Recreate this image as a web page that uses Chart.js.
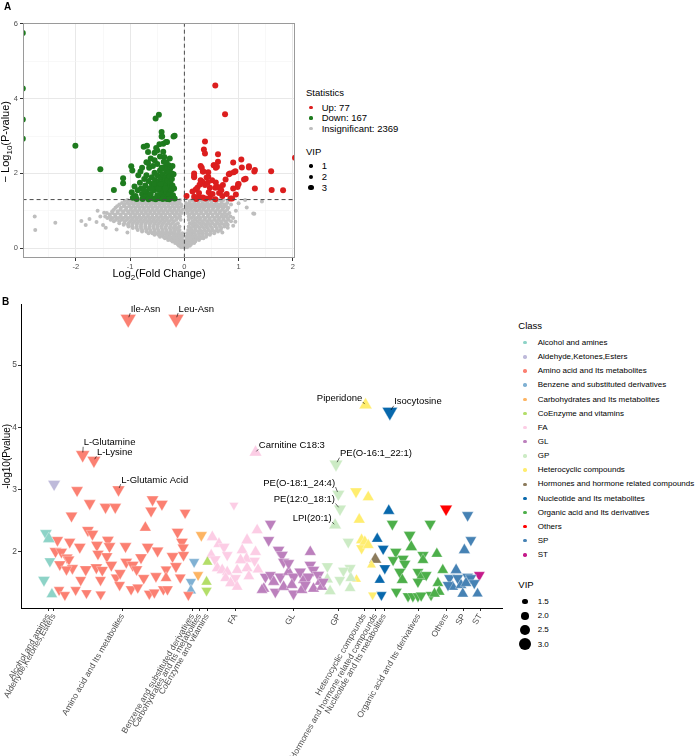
<!DOCTYPE html>
<html>
<head>
<meta charset="utf-8">
<script src="https://cdn.jsdelivr.net/npm/chart.js@4.4.1/dist/chart.umd.min.js"></script>
<style>
  body { margin: 0; background: #fff; width: 699px; height: 756px; position: relative; overflow: hidden;
         font-family: "Liberation Sans", Arial, sans-serif; color: #000; }
  .abs { position: absolute; white-space: nowrap; }
  #boxA { position: absolute; left: 0; top: 0; }
  #boxB { position: absolute; left: 0; top: 295px; }
  .dot { position: absolute; border-radius: 50%; }
</style>
</head>
<body>
<canvas id="boxA" width="300" height="270"></canvas>
<canvas id="boxB" width="512" height="461"></canvas>
<div id="overlay"></div>
<script>
/* ---------- panel A : volcano ---------- */
const volcXTicks = [-2, -1, 0, 1, 2];
const volcXMinor = [-2.5, -1.5, -0.5, 0.5, 1.5];
const volcYTicks = [0, 2, 4, 6];
const volcYMinor = [1, 3, 5];
const statLabels = ['Up: 77', 'Down: 167', 'Insignificant: 2369'];
const statColors = ['#DC1E1E', '#1E7B1E', '#BEBEBE'];
const vipLevelsA = [1, 2, 3];

// log2FC, -log10 p
const upPts = [[0.57,4.35],[0.75,3.58],[2.04,2.42],[0.38,2.85],[0.36,2.64],[0.62,2.51],[0.62,2.31],[1.05,2.37],
  [1.19,2.19],[1.30,2.09],[1.60,2.06],[1.61,1.56],[1.82,1.55],[1.30,1.60],[0.90,2.29],[0.94,2.06],[0.84,2.00],
  [0.99,1.71],[1.10,1.84],[1.13,1.86],[0.30,2.20],[0.34,2.05],[0.18,2.00],[0.18,1.93],[0.55,2.22],[0.58,2.15],
  [0.44,1.91],[0.04,1.40],[0.18,1.38],[0.21,1.57],[0.24,1.62],[0.30,1.82],[0.33,1.78],[0.38,1.69],[0.41,1.89],
  [0.47,1.62],[0.51,1.82],[0.57,1.62],[0.62,1.64],[0.66,1.62],[0.71,1.69],[0.76,1.84],[0.90,1.60],[0.98,1.64],
  [1.00,1.72],[0.26,1.38],[0.34,1.36],[0.39,1.33],[0.57,1.31],[0.85,1.33],[0.88,1.33],[0.47,1.36],[0.54,2.22],
  [0.60,2.18],[0.38,2.53],[0.91,2.03],[0.82,1.98],[1.06,2.16],[1.19,2.16],[1.29,2.05],[0.18,1.90],[0.35,2.05],
  [0.44,2.03],[0.32,2.15],[0.27,1.48],[0.45,1.50],[0.52,1.45],[0.64,1.48],[0.70,1.40],[0.15,1.52],[0.28,1.70],
  [0.43,1.75],[0.58,1.76],[0.68,1.55],[0.78,1.45],[0.22,1.32],[0.95,1.44]];
const downPts = [[-2.98,5.75],[-2.98,4.27],[-2.98,3.44],[-2.98,2.93],[-2.01,2.74],[-1.55,2.11],[-1.30,1.56],[-1.13,1.87],
  [-1.13,1.74],[-0.98,2.19],[-0.96,2.08],[-0.53,3.47],[-0.47,3.57],[-0.42,3.11],[-0.41,2.99],[-0.20,2.99],
  [-0.75,2.71],[-0.69,2.74],[-0.67,2.57],[-0.55,2.55],[-0.46,2.78],[-0.39,2.79],[-0.34,2.84],[-0.50,2.61],
  [-0.78,2.15],[-0.81,2.05],[-0.67,2.28],[-0.52,2.68],[-0.32,2.84],[-0.18,3.01],[-0.42,2.99],[-0.39,2.58],
  [-0.37,2.44],[-0.38,2.31],[-0.35,2.18],[-0.29,2.22],[-0.26,2.13],[-0.23,2.00],[-0.32,2.04],
  [-0.85,1.95],[-0.82,1.75],[-0.80,1.60],[-0.78,1.45],[-0.76,1.35],[-0.74,1.85],[-0.72,1.68],[-0.70,1.50],
  [-0.70,1.95],[-0.68,1.38],[-0.66,1.80],[-0.64,1.60],[-0.62,1.45],[-0.60,1.90],[-0.60,1.72],[-0.58,1.33],
  [-0.56,1.55],[-0.55,2.02],[-0.54,1.82],[-0.52,1.66],[-0.50,1.42],[-0.50,1.95],[-0.48,1.75],[-0.47,1.56],
  [-0.46,1.34],[-0.45,2.08],[-0.44,1.88],[-0.43,1.65],[-0.42,1.47],[-0.40,1.98],[-0.39,1.77],[-0.38,1.58],
  [-0.37,1.38],[-0.36,2.12],[-0.35,1.90],[-0.34,1.68],[-0.33,1.50],[-0.32,1.32],[-0.31,1.82],[-0.30,2.02],
  [-0.29,1.62],[-0.28,1.44],[-0.27,1.92],[-0.26,1.75],[-0.25,1.35],[-0.24,1.55],[-0.23,1.85],[-0.22,1.68],
  [-0.21,1.42],[-0.20,1.98],[-0.19,1.60],[-0.18,1.33],[-0.90,1.40],[-0.92,1.65],[-0.88,1.32],[-0.95,1.35],
  [-0.97,1.50],[-0.86,1.55],[-0.65,2.15],[-0.58,2.20],[-0.50,2.25],[-0.42,2.15],[-0.33,2.30],[-0.27,2.40],
  [-0.22,2.20],[-0.70,2.30],[-0.62,2.40],[-0.55,2.35],[-0.45,2.45],[-0.77,1.32],[-0.40,1.32],[-0.28,1.31],
  [-0.53,1.31],[-0.66,1.31],[-0.60,1.60],[-0.48,1.60],[-0.35,1.60],[-0.74,1.55],[-0.44,1.72],[-0.56,1.72]];
// insignificant cloud, read band by band: [-log10 p, [log2FC ...]]
const grayBands = [
  [0.03,[-0.06,-0.02,0.02,0.05]],
  [0.07,[-0.1,-0.05,0,0.05,0.1]],
  [0.10,[-0.12,-0.08,-0.03,0.03,0.08,0.12]],
  [0.14,[-0.17,-0.12,-0.07,-0.02,0.04,0.09,0.14,0.18]],
  [0.18,[-0.22,-0.16,-0.11,-0.06,0.05,0.1,0.15,0.2]],
  [0.22,[-0.3,-0.25,-0.19,-0.14,-0.09,-0.04,0.04,0.09,0.15,0.21,0.27]],
  [0.27,[-0.36,-0.3,-0.24,-0.18,-0.12,-0.06,0.06,0.12,0.18,0.24,0.3,0.35]],
  [0.31,[-0.45,-0.39,-0.33,-0.27,-0.21,-0.15,-0.09,-0.03,0.04,0.1,0.16,0.22,0.28,0.34,0.4]],
  [0.36,[-0.55,-0.48,-0.41,-0.34,-0.27,-0.2,-0.13,-0.07,0.07,0.13,0.2,0.27,0.34,0.41,0.47]],
  [0.40,[-0.66,-0.59,-0.52,-0.45,-0.38,-0.31,-0.24,-0.17,-0.1,-0.04,0.05,0.12,0.19,0.27,0.34,0.41,0.48,0.55]],
  [0.45,[-0.78,-0.7,-0.62,-0.55,-0.47,-0.4,-0.33,-0.26,-0.19,-0.11,0.1,0.17,0.25,0.32,0.4,0.48,0.55,0.62]],
  [0.49,[-0.86,-0.78,-0.7,-0.63,-0.55,-0.48,-0.4,-0.33,-0.25,-0.17,-0.09,0.07,0.14,0.21,0.29,0.37,0.45,0.52,0.6,0.67]],
  [0.54,[-0.95,-0.88,-0.8,-0.72,-0.65,-0.57,-0.5,-0.42,-0.35,-0.27,-0.2,-0.13,0.12,0.2,0.28,0.36,0.43,0.51,0.6,0.68]],
  [0.58,[-1.03,-0.96,-0.88,-0.8,-0.72,-0.64,-0.57,-0.49,-0.42,-0.34,-0.26,-0.18,-0.09,0.08,0.17,0.25,0.33,0.41,0.49,0.57,0.66,0.74]],
  [0.63,[-1.12,-1.04,-0.96,-0.88,-0.8,-0.72,-0.64,-0.56,-0.49,-0.41,-0.33,-0.25,-0.16,0.14,0.22,0.31,0.39,0.47,0.56,0.64,0.73,0.8]],
  [0.67,[-1.2,-1.11,-1.03,-0.95,-0.87,-0.79,-0.71,-0.63,-0.55,-0.47,-0.39,-0.3,-0.22,-0.12,0.1,0.19,0.28,0.36,0.44,0.52,0.61,0.69,0.78]],
  [0.72,[-1.3,-1.2,-1.1,-1.0,-0.92,-0.84,-0.76,-0.68,-0.6,-0.52,-0.44,-0.36,-0.28,-0.19,0.15,0.24,0.33,0.42,0.5,0.59,0.67,0.76,0.86]],
  [0.76,[-1.36,-1.26,-1.16,-1.06,-0.97,-0.89,-0.81,-0.73,-0.65,-0.57,-0.49,-0.41,-0.33,-0.24,-0.15,-0.07,0.08,0.19,0.28,0.37,0.46,0.55,0.63,0.72,0.81]],
  [0.81,[-1.42,-1.32,-1.22,-1.12,-1.03,-0.95,-0.87,-0.79,-0.71,-0.63,-0.55,-0.47,-0.39,-0.31,-0.22,-0.13,0.13,0.22,0.3,0.39,0.47,0.56,0.64,0.72,0.8,0.9]],
  [0.85,[-1.46,-1.37,-1.27,-1.17,-1.08,-0.99,-0.91,-0.83,-0.75,-0.67,-0.59,-0.51,-0.43,-0.35,-0.26,-0.17,-0.08,0.08,0.17,0.26,0.35,0.43,0.52,0.6,0.68,0.76,0.85]],
  [0.90,[-1.38,-1.28,-1.18,-1.08,-0.99,-0.91,-0.83,-0.75,-0.67,-0.59,-0.51,-0.43,-0.35,-0.27,-0.18,-0.1,0.1,0.18,0.27,0.35,0.44,0.52,0.61,0.7,0.79]],
  [0.94,[-1.43,-1.33,-1.23,-1.13,-1.03,-0.95,-0.87,-0.79,-0.71,-0.63,-0.55,-0.47,-0.39,-0.31,-0.22,-0.14,-0.05,0.05,0.14,0.22,0.31,0.4,0.48,0.57,0.65,0.74,0.83]],
  [0.99,[-1.33,-1.23,-1.13,-1.04,-0.95,-0.87,-0.79,-0.71,-0.63,-0.55,-0.47,-0.39,-0.31,-0.23,-0.15,-0.07,0.07,0.15,0.23,0.31,0.4,0.48,0.57,0.66,0.75]],
  [1.03,[-1.3,-1.18,-1.08,-0.99,-0.91,-0.83,-0.75,-0.67,-0.59,-0.51,-0.43,-0.35,-0.27,-0.19,-0.11,-0.03,0.03,0.11,0.19,0.27,0.35,0.44,0.52,0.61,0.7,0.79]],
  [1.08,[-1.27,-1.17,-1.07,-0.98,-0.9,-0.82,-0.74,-0.66,-0.58,-0.5,-0.42,-0.34,-0.26,-0.18,-0.1,0.06,0.13,0.21,0.29,0.37,0.45,0.54,0.63,0.72,0.81]],
  [1.12,[-1.24,-1.12,-1.02,-0.94,-0.86,-0.78,-0.7,-0.62,-0.54,-0.46,-0.38,-0.3,-0.22,-0.14,-0.06,0.04,0.1,0.17,0.25,0.33,0.41,0.5,0.59,0.68,0.77]],
  [1.17,[-1.2,-1.1,-1.01,-0.93,-0.85,-0.77,-0.69,-0.61,-0.53,-0.45,-0.37,-0.29,-0.21,-0.13,-0.06,0.06,0.14,0.22,0.3,0.38,0.46,0.55,0.64,0.74,0.86]],
  [1.21,[-1.15,-1.05,-0.97,-0.89,-0.81,-0.73,-0.65,-0.57,-0.49,-0.41,-0.33,-0.25,-0.17,-0.09,0.03,0.1,0.18,0.26,0.34,0.42,0.5,0.59,0.69,0.79]],
  [1.26,[-1.1,-1.0,-0.92,-0.84,-0.76,-0.68,-0.6,-0.52,-0.44,-0.36,-0.28,-0.2,-0.12,0.1,0.18,0.26,0.34,0.42,0.5,0.59,0.68,0.8]],
  [1.29,[-1.05,-0.96,-0.88,-0.8,-0.72,-0.64,-0.56,-0.48,-0.4,-0.32,-0.24,-0.16,-0.08,0.14,0.22,0.3,0.38,0.46,0.54,0.63,0.72]]
];
const grayOut = [[-2.76,0.85],[-2.75,0.49],[-2.38,0.68],[-1.90,0.73],[-1.82,0.62],[-1.75,0.78],[-1.62,0.70],
  [-1.55,0.85],[-1.50,0.62],[-1.48,0.95],[-1.45,0.55],[-1.60,1.00],[0.94,0.71],[1.12,1.29],[1.15,1.09],
  [1.29,0.92],[1.27,0.93],[1.43,1.25],[0.95,1.00],[1.00,1.20],[0.90,0.60],[-1.25,0.50],[-1.05,0.42],
  [0.70,0.42],[0.80,0.55]];
const pThreshold = 1.301;
const fcThreshold = 0;

/* ---------- panel B : class plot ---------- */
const classNames = ['Alcohol and amines','Aldehyde,Ketones,Esters','Amino acid and Its metabolites',
  'Benzene and substituted derivatives','Carbohydrates and Its metabolites','CoEnzyme and vitamins','FA','GL','GP',
  'Heterocyclic compounds','Hormones and hormone related compounds','Nucleotide and Its metabolites',
  'Organic acid and Its derivatives','Others','SP','ST'];
const classColors = ['#8DD3C7','#BEBADA','#FB8072','#80B1D3','#FDB462','#B3DE69','#FCCDE5','#BC80BD','#CCEBC5',
  '#FFED6F','#8C7B5C','#0868AC','#4DAF4A','#FF0000','#4682B4','#C51B8A'];
const classTicks = [3.9,7.1,45.2,84.0,87.9,92.2,108.0,140.0,165.4,179.4,185.7,190.5,209.7,225.1,234.7,243.9];
const yTicksB = [2, 3, 4, 5];
const vipLevelsB = [1.5, 2.0, 2.5, 3.0];

// [index, -log10 p, up(1)/down(0), VIP, label]
const alcohol = [[2.7,2.30,0,2.2],[4.3,2.21,1,2.2],[4.9,1.85,0,2.0],[1.6,1.55,0,2.2],[6.0,1.32,1,2.0]];
const aldehyde = [[7.25,3.09,0,2.3]];
const amino = [[20.0,2.99,0,2.2],[43.0,3.00,0,2.3,'L-Glutamic Acid'],[27.0,2.78,0,2.2],[35.8,2.72,0,2.2],
  [41.2,2.72,0,2.2],[61.9,2.84,0,2.2],[67.1,2.77,0,2.2],[61.1,2.66,0,2.2],[80.0,2.63,0,2.0],[16.9,2.58,0,2.2],
  [57.9,2.39,1,2.1],[26.0,2.35,0,2.2],[28.5,2.29,0,2.2],[9.1,2.19,0,2.1],[15.9,2.16,0,2.1],[21.5,2.08,0,2.2],
  [31.0,2.11,0,2.2],[37.1,2.19,0,2.2],[38.0,2.09,0,2.2],[46.9,2.09,0,2.2],[59.2,2.08,0,2.2],[64.7,2.02,0,2.2],
  [75.8,2.32,0,2.2],[78.2,2.16,0,2.2],[78.9,2.07,0,2.1],[8.0,2.01,0,2.2],[11.3,2.00,0,2.1],[14.4,1.91,0,2.1],
  [15.5,1.88,0,2.0],[31.6,1.97,0,2.1],[36.5,1.93,0,2.1],[55.5,1.91,0,2.2],[73.0,1.93,0,2.2],[79.1,1.95,0,2.1],
  [10.4,1.80,0,2.1],[17.4,1.74,0,2.1],[24.8,1.72,0,2.2],[30.7,1.75,0,2.2],[39.0,1.79,0,2.2],[47.3,1.84,0,2.2],
  [50.9,1.79,0,2.2],[53.1,1.72,0,2.1],[14.1,1.72,0,2.0],[34.0,1.71,0,2.1],[74.9,1.77,0,2.2],[69.4,1.72,0,2.0],
  [69.4,1.58,1,2.0],[22.0,1.55,0,2.0],[33.0,1.55,0,2.0],[41.7,1.59,0,2.0],[43.9,1.66,0,2.1],[57.0,1.58,0,2.1],
  [63.8,1.61,0,2.1],[77.3,1.59,0,2.0],[10.0,1.39,0,1.9],[13.2,1.31,0,1.9],[19.2,1.39,0,1.9],[25.2,1.34,0,1.9],
  [33.1,1.32,0,1.9],[43.6,1.47,0,2.0],[50.0,1.40,0,2.0],[53.7,1.43,0,2.0],[60.1,1.33,0,2.0],[62.9,1.35,0,2.0],
  [67.9,1.40,0,2.0],[70.2,1.40,0,2.0],[81.8,1.31,0,1.9],[48.4,5.74,0,3.0,'Ile-Asn'],[75.0,5.74,0,3.0,'Leu-Asn'],
  [23.1,3.56,0,2.6,'L-Glutamine'],[29.35,3.47,0,2.5,'L-Lysine']];
const benzene = [[85.0,1.84,0,1.9],[83.2,1.52,0,1.9],[83.2,1.38,1,1.9]];
const carbo = [[89.0,2.27,0,2.1],[87.2,1.63,0,1.9]];
const coenzyme = [[92.4,1.84,1,1.8],[91.9,1.52,1,1.9],[91.9,1.38,0,1.9]];
const fa = [[107.1,2.75,0,1.6],[120.0,2.35,1,2.1],[119.1,3.60,1,2.3,'Carnitine C18:3'],[95.1,2.24,1,2.1],
  [98.8,2.13,1,2.1],[101.6,2.08,0,2.1],[114.4,2.19,1,2.2],[94.5,1.95,1,2.0],[96.6,1.88,0,2.1],[103.4,1.95,0,2.0],
  [111.7,2.03,1,2.1],[114.1,1.89,1,2.1],[119.1,2.00,1,2.1],[118.6,1.86,0,2.0],[97.9,1.74,1,2.1],[100.6,1.71,1,2.1],
  [103.4,1.68,1,2.0],[110.8,1.87,1,2.1],[108.9,1.71,1,2.0],[114.4,1.74,1,2.1],[102.5,1.58,1,2.0],[105.3,1.50,1,2.1],
  [108.0,1.58,0,2.0],[108.9,1.44,1,2.0],[115.4,1.61,1,2.0],[120.5,1.72,1,2.0]];
const gl = [[127.4,2.45,0,2.1],[126.4,2.19,0,2.1],[131.9,2.03,0,2.2],[133.8,1.95,0,2.2],[149.5,2.00,1,2.1],
  [149.5,1.79,0,2.2],[134.7,1.84,0,2.1],[151.3,1.71,0,2.2],[124.6,1.60,0,2.1],[127.4,1.63,0,2.0],[129.2,1.52,1,2.1],
  [132.9,1.60,0,2.2],[137.5,1.68,1,2.1],[140.2,1.60,0,2.2],[143.9,1.68,0,2.2],[145.8,1.55,1,2.1],[148.5,1.60,0,2.2],
  [154.0,1.63,0,2.2],[154.9,1.52,1,2.0],[123.7,1.41,1,2.1],[130.1,1.36,0,2.1],[134.7,1.44,1,2.1],[139.3,1.47,1,2.1],
  [140.2,1.33,0,2.1],[144.8,1.39,1,2.1],[146.7,1.47,0,2.1],[151.3,1.41,1,2.1],[155.9,1.44,1,2.0],[137.5,1.82,0,2.1],
  [156.8,1.52,0,2.0],[122.7,1.39,1,2.0]];
const gp = [[163.8,3.41,0,2.5,'PE(O-16:1_22:1)'],[165.1,2.93,0,2.3,'PE(O-18:1_24:4)'],[166.0,2.69,0,2.3,'PE(12:0_18:1)'],
  [163.3,2.43,1,2.3,'LPI(20:1)'],[159.0,1.77,0,2.1],[159.0,1.56,1,2.1],[160.5,1.37,1,2.1],[165.9,1.55,0,2.0],
  [170.6,2.16,0,2.1],[171.6,1.74,0,2.1],[172.0,1.58,1,2.0],[171.6,1.42,1,2.0],[167.9,1.70,0,2.0]];
const hetero = [[180.2,4.36,1,2.4,'Piperidone'],[174.9,2.97,0,2.2],[181.7,2.88,1,2.1],[176.7,2.52,1,2.1],
  [178.0,2.19,1,2.1],[179.8,2.16,1,2.1],[178.0,2.06,0,2.0],[181.7,2.11,1,2.0],[183.5,1.79,1,1.6],[175.2,1.56,1,1.6],
  [184.1,1.31,0,1.6]];
const hormones = [[185.6,1.88,1,2.3]];
const nucleotide = [[193.7,4.25,0,2.9,'Isocytosine'],[193.1,2.66,1,2.1],[186.7,2.21,1,2.0],[190.0,2.05,0,2.0],
  [190.9,1.74,0,2.0],[188.1,1.55,1,1.9],[189.0,1.31,0,1.9]];
const organic = [[195.1,2.45,0,2.1],[216.1,2.45,0,2.1],[204.7,2.27,0,2.2],[205.6,2.08,1,2.2],[219.8,1.97,1,2.0],
  [197.0,2.00,0,2.1],[212.1,1.95,0,2.1],[195.5,1.87,0,2.0],[201.0,1.89,0,2.1],[202.0,1.81,0,2.1],[212.1,1.87,1,2.0],
  [199.2,1.68,0,2.1],[200.6,1.55,1,2.1],[209.3,1.68,0,2.0],[211.1,1.60,1,2.0],[213.9,1.63,0,2.0],[223.1,1.71,1,2.0],
  [220.4,1.50,1,2.0],[209.3,1.52,0,2.0],[197.3,1.36,0,2.0],[203.8,1.29,0,2.0],[206.5,1.29,0,2.0],[209.3,1.29,0,2.0],
  [211.1,1.30,0,2.0],[216.6,1.31,0,2.0],[221.1,1.36,1,2.0],[218.5,1.33,1,2.0]];
const others = [[224.9,2.69,0,2.3]];
const sp = [[236.9,2.59,0,2.1],[238.7,2.19,0,2.0],[235.1,2.03,1,2.1],[230.5,1.71,1,2.1],[226.8,1.58,0,2.0],
  [231.4,1.58,0,2.0],[228.6,1.44,1,2.0],[233.2,1.47,1,2.0],[226.0,1.47,0,2.0],[236.9,1.60,0,2.0],[236.0,1.50,1,2.0],
  [238.7,1.58,0,2.0],[234.2,1.33,1,2.0],[242.4,1.33,1,1.9],[240.6,1.50,0,2.0]];
const st = [[243.4,1.63,0,2.0]];
const classPoints = [alcohol, aldehyde, amino, benzene, carbo, coenzyme, fa, gl, gp, hetero, hormones,
  nucleotide, organic, others, sp, st];

// where each label sits relative to its point: dx, dy, align
const labelOffsets = {
  'Ile-Asn': [2.5, -10, 'left'], 'Leu-Asn': [2.5, -10, 'left'], 'L-Glutamine': [1, -12, 'left'],
  'L-Lysine': [3, -8, 'left'], 'L-Glutamic Acid': [2.7, -9.5, 'left'], 'Carnitine C18:3': [3.3, -7, 'left'],
  'Piperidone': [-3.3, -7, 'right'], 'Isocytosine': [4.3, -10, 'left'], 'PE(O-16:1_22:1)': [4, -10.5, 'left'],
  'PE(O-18:1_24:4)': [-3.3, -11, 'right'], 'PE(12:0_18:1)': [-5, -9.5, 'right'], 'LPI(20:1)': [-3.4, -7, 'right']
};

const FONT = '"Liberation Sans", Arial, sans-serif';
const vipRadius = v => 2.6 * v + 1.3;

/* ---------- draw panel A ---------- */
const grayPts = [];
grayBands.forEach(([y, xs]) => xs.forEach(x => grayPts.push({ x, y })));
grayOut.forEach(([x, y]) => grayPts.push({ x, y }));

const boxPlugin = {
  id: 'panelBox',
  afterDatasetsDraw(chart) {
    const a = chart.chartArea, c = chart.ctx;
    c.save();
    c.strokeStyle = '#9a9a9a';
    c.lineWidth = 1;
    c.strokeRect(a.left + 0.5, a.top + 0.5, a.right - a.left - 1, a.bottom - a.top - 1);
    c.restore();
  }
};

const isIn = (arr, v) => arr.some(t => Math.abs(t - v) < 1e-9);

new Chart(document.getElementById('boxA'), {
  type: 'scatter',
  data: {
    datasets: [
      { data: [{ x: -3.5, y: pThreshold }, { x: 2.5, y: pThreshold }], showLine: true, pointRadius: 0,
        borderColor: '#4a4a4a', borderWidth: 1, borderDash: [4, 3], order: 0, clip: 0 },
      { data: [{ x: fcThreshold, y: -1 }, { x: fcThreshold, y: 7 }], showLine: true, pointRadius: 0,
        borderColor: '#4a4a4a', borderWidth: 1, borderDash: [4, 3], order: 0, clip: 0 },
      { data: downPts.map(([x, y]) => ({ x, y })), pointRadius: 3, pointBackgroundColor: statColors[1],
        pointBorderWidth: 0, order: 1, clip: 0 },
      { data: upPts.map(([x, y]) => ({ x, y })), pointRadius: 3, pointBackgroundColor: statColors[0],
        pointBorderWidth: 0, order: 1, clip: 0 },
      { data: grayPts, pointRadius: 2, pointBackgroundColor: statColors[2], pointBorderWidth: 0, order: 2, clip: 0 }
    ]
  },
  options: {
    responsive: false, animation: false, devicePixelRatio: 1, events: [],
    layout: { padding: { top: 23, right: 5, left: 0, bottom: 0 } },
    plugins: { legend: { display: false }, tooltip: { enabled: false } },
    scales: {
      x: {
        type: 'linear', min: -2.976, max: 2.04,
        afterBuildTicks: s => { s.ticks = volcXTicks.concat(volcXMinor).sort((a, b) => a - b).map(v => ({ value: v })); },
        afterFit: s => { s.height = 12; },
        ticks: { autoSkip: false, maxRotation: 0, padding: 1, color: '#4d4d4d', font: { family: FONT, size: 7.5 },
          callback: v => isIn(volcXTicks, v) ? String(v) : '' },
        grid: { color: c => isIn(volcXTicks, c.tick.value) ? '#e8e8e8' : '#f3f3f3',
          lineWidth: c => isIn(volcXTicks, c.tick.value) ? 1 : 0.6,
          tickColor: c => isIn(volcXTicks, c.tick.value) ? '#333' : 'rgba(0,0,0,0)', tickLength: 3 },
        border: { display: false }
      },
      y: {
        type: 'linear', min: -0.26, max: 6.02,
        afterBuildTicks: s => { s.ticks = volcYTicks.concat(volcYMinor).sort((a, b) => a - b).map(v => ({ value: v })); },
        afterFit: s => { s.width = 23; },
        ticks: { autoSkip: false, padding: 2, color: '#4d4d4d', font: { family: FONT, size: 7.5 },
          callback: v => isIn(volcYTicks, v) ? String(v) : '' },
        grid: { color: c => isIn(volcYTicks, c.tick.value) ? '#e8e8e8' : '#f3f3f3',
          lineWidth: c => isIn(volcYTicks, c.tick.value) ? 1 : 0.6,
          tickColor: c => isIn(volcYTicks, c.tick.value) ? '#333' : 'rgba(0,0,0,0)', tickLength: 3 },
        border: { display: false }
      }
    }
  },
  plugins: [boxPlugin]
});

/* ---------- draw panel B ---------- */
const labelPlugin = {
  id: 'metLabels',
  afterDatasetsDraw(chart) {
    const c = chart.ctx;
    c.save();
    c.font = '9.5px ' + FONT;
    c.fillStyle = '#000';
    c.strokeStyle = '#000';
    c.lineWidth = 0.6;
    c.textBaseline = 'middle';
    chart.data.datasets.forEach((ds, di) => {
      const meta = chart.getDatasetMeta(di);
      ds.names.forEach((name, i) => {
        if (!name) return;
        const el = meta.data[i];
        const [dx, dy, align] = labelOffsets[name];
        const tx = el.x + dx, ty = el.y + dy;
        const ex = align === 'left' ? tx - 0.5 : tx + 0.5, ey = ty + 4;
        c.beginPath();
        c.moveTo(el.x + (ex - el.x) * 0.3, el.y + (ey - el.y) * 0.3);
        c.lineTo(ex, ey);
        c.stroke();
        c.textAlign = align;
        c.fillText(name, tx, ty);
      });
    });
    c.restore();
  }
};

new Chart(document.getElementById('boxB'), {
  type: 'scatter',
  data: {
    datasets: classPoints.map((pts, ci) => ({
      label: classNames[ci],
      data: pts.map(p => ({ x: p[0], y: p[1] })),
      names: pts.map(p => p[4] || ''),
      pointStyle: 'triangle',
      pointRotation: pts.map(p => p[2] ? 0 : 180),
      pointRadius: pts.map(p => vipRadius(p[3])),
      pointBackgroundColor: classColors[ci],
      pointBorderColor: 'rgba(255,255,255,0.55)',
      pointBorderWidth: 0.6,
      order: ci
    }))
  },
  options: {
    responsive: false, animation: false, devicePixelRatio: 1, events: [],
    layout: { padding: { top: 8, right: 7, left: 0, bottom: 0 } },
    plugins: { legend: { display: false }, tooltip: { enabled: false } },
    scales: {
      x: {
        type: 'linear', min: -11.15, max: 256.15,
        afterBuildTicks: s => { s.ticks = classTicks.map(v => ({ value: v })); },
        afterFit: s => { s.height = 148; },
        ticks: { autoSkip: false, minRotation: 60, maxRotation: 60, padding: 1, color: '#4d4d4d',
          font: { family: FONT, size: 8.5 }, callback: (v, i) => classNames[i] },
        grid: { display: true, drawOnChartArea: false, tickLength: 3, tickColor: '#333' },
        border: { display: true, color: '#000', width: 1 }
      },
      y: {
        type: 'linear', min: 1.10, max: 5.97,
        afterBuildTicks: s => { s.ticks = yTicksB.map(v => ({ value: v })); },
        afterFit: s => { s.width = 21; },
        title: { display: true, text: '-log10(Pvalue)', color: '#000', font: { family: FONT, size: 10 },
          padding: { top: 1, bottom: 0 } },
        ticks: { padding: 1, color: '#4d4d4d', font: { family: FONT, size: 8.5 } },
        grid: { display: true, drawOnChartArea: false, tickLength: 3, tickColor: '#333' },
        border: { display: true, color: '#000', width: 1 }
      }
    }
  },
  plugins: [labelPlugin]
});

/* ---------- text and legends ---------- */
const overlay = document.getElementById('overlay');
function addText(text, x, cy, size, extra) {
  const d = document.createElement('div');
  d.className = 'abs';
  d.textContent = text;
  d.style.left = x + 'px';
  d.style.top = (cy - size * 0.6) + 'px';
  d.style.fontSize = size + 'px';
  d.style.lineHeight = (size * 1.2) + 'px';
  Object.assign(d.style, extra || {});
  overlay.appendChild(d);
  return d;
}
function addDot(cx, cy, r, color) {
  const d = document.createElement('div');
  d.className = 'dot';
  d.style.left = (cx - r) + 'px';
  d.style.top = (cy - r) + 'px';
  d.style.width = d.style.height = (2 * r) + 'px';
  d.style.background = color;
  overlay.appendChild(d);
}

addText('A', 4, 6.5, 10, { fontWeight: 'bold' });
addText('B', 2, 301.5, 10, { fontWeight: 'bold' });

// panel A axis titles (with subscripts)
const xt = addText('', 159, 274, 11, { transform: 'translateX(-50%)' });
xt.innerHTML = 'Log<sub style="font-size:8px">2</sub>(Fold Change)';
const yt = addText('', 7, 140, 11, { transform: 'translate(-50%,0) rotate(-90deg)', transformOrigin: '50% 50%' });
yt.innerHTML = '\u2212 Log<sub style="font-size:8px">10</sub>(P-value)';
yt.style.left = '8px';

// legend A
addText('Statistics', 306, 93, 9.5);
statLabels.forEach((s, i) => {
  const cy = [107.3, 118, 128.7][i];
  addDot(311, cy, 1.6, statColors[i]);
  addText(s, 321.7, cy, 9.5);
});
addText('VIP', 306, 151.7, 9.5);
vipLevelsA.forEach((v, i) => {
  const cy = 166 + i * 10.85;
  addDot(311, cy, 1.2 + 0.5 * v, '#000');
  addText(String(v), 321.7, cy, 9.5);
});

// legend B
addText('Class', 518.3, 326, 9.5);
classNames.forEach((n, i) => {
  const cy = 342.7 + i * 14.15;
  addDot(525, cy, 1.7, classColors[i]);
  addText(n, 537.7, cy, 8);
});
addText('VIP', 518.3, 585, 9.5);
vipLevelsB.forEach((v, i) => {
  const cy = 601.7 + i * 14.2;
  addDot(525, cy, 2.2 * v - 0.6, '#000');
  addText(v.toFixed(1), 537.7, cy, 8);
});
</script>
</body>
</html>
